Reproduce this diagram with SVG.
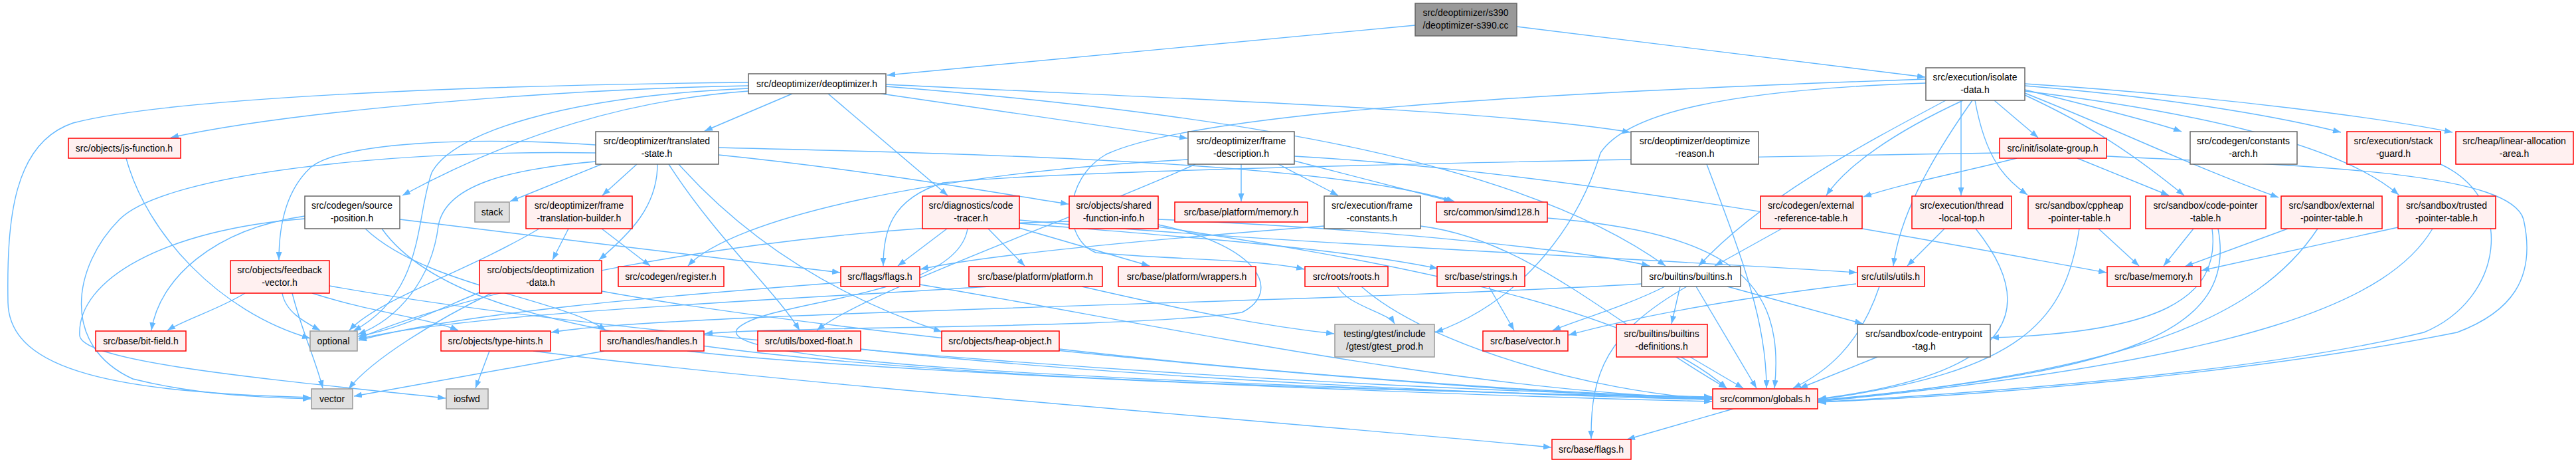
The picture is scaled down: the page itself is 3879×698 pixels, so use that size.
<svg xmlns="http://www.w3.org/2000/svg" width="3879" height="698" viewBox="0 0 3879 698">
<style>
text{font-family:"Liberation Sans",Arial,sans-serif;font-size:14px;text-anchor:middle;fill:#000}
.r{fill:#fff0f0;stroke:#ff0000;stroke-width:1.5}
.w{fill:#ffffff;stroke:#666666;stroke-width:1.5}
.g{fill:#e0e0e0;stroke:#999999;stroke-width:1.5}
.k{fill:#999999;stroke:#666666;stroke-width:1.5}
#edges path{fill:none;stroke:#63b8ff;stroke-width:1.4;marker-end:url(#a)}
</style>
<defs>
<marker id="a" markerWidth="12" markerHeight="9" refX="12" refY="4.5" orient="auto" markerUnits="userSpaceOnUse"><path d="M0,0 L12,4.5 L0,9 z" fill="#63b8ff" stroke="none"/></marker>
</defs>
<rect width="3879" height="698" fill="#ffffff"/>
<g id="edges">
<path d="M2131,38 L1336,113"/>
<path d="M2284,40 L2899,116"/>
<path d="M1127,129 C850,134 450,165 257,207"/>
<path d="M1127,124 C700,128 250,148 110,185 C20,215 10,330 12,455 C14,560 180,590 468,598"/>
<path d="M1193,141 L1061,197"/>
<path d="M1127,137 C950,150 780,200 606,294"/>
<path d="M1247,141 L1427,294"/>
<path d="M1327,141 L1788,208"/>
<path d="M1334,127 C1800,150 2250,165 2455,199"/>
<path d="M1334,130 C1900,175 2300,250 2508,400"/>
<path d="M1127,133 C850,145 680,200 650,260 C625,330 640,440 532,498"/>
<path d="M906,247 L768,303"/>
<path d="M959,247 L907,294"/>
<path d="M990,247 C990,310 950,350 902,391"/>
<path d="M897,218 C700,205 520,215 470,250 C430,285 420,340 420,391"/>
<path d="M1022,247 C1150,390 1300,460 1418,499"/>
<path d="M1007,247 C1080,360 1170,440 1204,497"/>
<path d="M1082,233 C1300,255 1500,290 1609,307"/>
<path d="M1082,222 C1500,232 2000,245 2190,303"/>
<path d="M897,243 C760,255 670,280 660,340 C650,420 600,480 539,503"/>
<path d="M897,230 C600,225 250,260 180,330 C110,400 90,520 200,570 C300,595 400,598 468,600"/>
<path d="M602,330 C800,355 1100,390 1265,410"/>
<path d="M459,325 C320,345 240,420 228,497"/>
<path d="M459,329 C250,345 115,420 120,505 C125,545 400,570 671,599"/>
<path d="M550,344 C640,430 850,450 912,497"/>
<path d="M575,344 C700,520 1200,570 2578,598"/>
<path d="M369,441 C330,465 280,480 252,497"/>
<path d="M425,441 C430,470 460,485 482,497"/>
<path d="M440,441 C455,500 475,540 486,584"/>
<path d="M470,441 C560,470 650,480 690,497"/>
<path d="M496,430 C1000,520 2000,585 2578,597"/>
<path d="M856,344 L832,391"/>
<path d="M906,344 L979,400"/>
<path d="M812,344 C700,410 570,450 526,497"/>
<path d="M722,440 C650,470 600,495 539,506"/>
<path d="M906,438 C1300,510 2200,590 2578,601"/>
<path d="M740,441 C660,480 560,540 525,585"/>
<path d="M1426,344 L1352,400"/>
<path d="M1488,344 L1543,400"/>
<path d="M1535,343 L1731,400"/>
<path d="M1535,336 C1700,350 2000,370 2165,404"/>
<path d="M1535,331 C1900,365 2500,390 2796,410"/>
<path d="M1457,344 C1440,450 1150,450 1110,495 C1080,540 1500,570 2578,600"/>
<path d="M1610,333 C1100,345 700,440 540,509"/>
<path d="M1744,330 C2100,345 2400,380 2484,400"/>
<path d="M1744,338 C1900,370 1930,440 1870,470 C1700,495 1200,490 1061,502"/>
<path d="M1744,341 C2000,380 2450,450 2600,584"/>
<path d="M1869,247 L1869,303"/>
<path d="M1925,247 L2015,294"/>
<path d="M1949,242 L2186,303"/>
<path d="M1789,240 C1400,260 1100,330 1036,400"/>
<path d="M1800,247 C1640,320 1300,440 1230,497"/>
<path d="M1949,235 C2400,260 3000,380 3172,410"/>
<path d="M1994,340 C1800,355 1500,380 1386,405"/>
<path d="M2139,340 C2300,360 2420,480 2600,584"/>
<path d="M2330,328 C2600,350 2690,420 2672,584"/>
<path d="M2570,247 C2620,380 2660,480 2660,584"/>
<path d="M3003,151 L3069,207"/>
<path d="M3049,135 C3150,160 3250,185 3285,198"/>
<path d="M3049,129 C3300,150 3450,180 3525,199"/>
<path d="M3049,126 C3350,145 3600,180 3693,199"/>
<path d="M2953,151 L2953,294"/>
<path d="M2974,151 C2990,240 3020,270 3053,293"/>
<path d="M3049,143 C3150,190 3210,230 3289,294"/>
<path d="M3049,140 C3200,200 3300,250 3431,297"/>
<path d="M3049,137 C3400,180 3550,240 3612,293"/>
<path d="M2956,151 C2850,200 2780,250 2750,294"/>
<path d="M2970,151 C2900,250 2860,330 2851,400"/>
<path d="M2930,151 C2800,220 2650,300 2558,400"/>
<path d="M2900,119 C2300,140 1800,170 1666,232 C1600,270 1600,360 1650,380 C1750,390 1900,390 1964,405"/>
<path d="M2900,125 C2600,135 2450,170 2410,230 C2380,330 2300,450 2161,500"/>
<path d="M3037,238 C2950,260 2870,275 2806,296"/>
<path d="M3128,238 L3266,294"/>
<path d="M3011,230 C2400,240 1600,255 1420,275 C1340,300 1330,350 1330,400"/>
<path d="M3172,235 C3500,250 3780,260 3800,330 C3820,420 3780,470 3700,500 C3400,560 3000,595 2737,605"/>
<path d="M2928,344 L2872,400"/>
<path d="M2975,344 C3060,450 3060,560 2738,600"/>
<path d="M3160,344 L3221,400"/>
<path d="M3131,344 C3110,480 3050,560 2738,601"/>
<path d="M3303,344 L3258,400"/>
<path d="M3331,344 C3345,450 3250,500 2998,508"/>
<path d="M3340,344 C3370,500 3200,560 2738,602"/>
<path d="M3445,344 L3290,401"/>
<path d="M3490,344 C3400,480 3200,560 2738,603"/>
<path d="M3611,342 L3315,407"/>
<path d="M3663,344 C3600,450 3400,540 2738,604"/>
<path d="M3675,247 C3790,300 3770,450 3650,500 C3400,560 3000,590 2738,605"/>
<path d="M2683,344 L2582,400"/>
<path d="M2472,427 C2000,455 1000,470 830,500"/>
<path d="M2507,431 C2450,460 2380,480 2338,497"/>
<path d="M2530,431 L2517,487"/>
<path d="M2554,431 L2645,584"/>
<path d="M2540,431 C2420,500 2395,560 2396,660"/>
<path d="M2601,431 L2805,487"/>
<path d="M2795,427 C2600,450 2450,480 2362,504"/>
<path d="M2830,431 C2800,520 2750,560 2700,584"/>
<path d="M2050,431 C2150,520 2400,590 2578,600"/>
<path d="M2014,431 C2030,460 2090,470 2100,487"/>
<path d="M2242,431 L2280,497"/>
<path d="M1629,431 C1800,470 1900,490 2009,502"/>
<path d="M1490,431 C1200,450 700,470 540,510"/>
<path d="M1385,428 C1700,480 2200,590 2578,599"/>
<path d="M1266,425 C1000,445 700,470 540,512"/>
<path d="M910,528 L533,596"/>
<path d="M1035,528 C1300,560 2200,595 2578,604"/>
<path d="M737,528 L716,584"/>
<path d="M803,528 C1200,580 2000,640 2336,673"/>
<path d="M1296,525 C1700,570 2300,595 2578,601"/>
<path d="M1595,525 C1900,560 2300,590 2578,599"/>
<path d="M190,238 C220,350 330,470 467,509"/>
<path d="M2545,537 L2625,584"/>
<path d="M2827,537 L2710,584"/>
<path d="M2610,615 L2450,661"/>
</g>
<g id="n0"><rect class="k" x="2131" y="5" width="153" height="49"/><text x="2207" y="24">src/deoptimizer/s390</text><text x="2207" y="43">/deoptimizer-s390.cc</text></g>
<g id="n1"><rect class="w" x="1127" y="111" width="207" height="30"/><text x="1230" y="131">src/deoptimizer/deoptimizer.h</text></g>
<g id="n2"><rect class="w" x="2900" y="102" width="149" height="49"/><text x="2974" y="121">src/execution/isolate</text><text x="2974" y="140">-data.h</text></g>
<g id="n3"><rect class="r" x="103" y="208" width="169" height="30"/><text x="187" y="228">src/objects/js-function.h</text></g>
<g id="n4"><rect class="w" x="897" y="198" width="185" height="49"/><text x="989" y="217">src/deoptimizer/translated</text><text x="989" y="236">-state.h</text></g>
<g id="n5"><rect class="w" x="1789" y="198" width="160" height="49"/><text x="1869" y="217">src/deoptimizer/frame</text><text x="1869" y="236">-description.h</text></g>
<g id="n6"><rect class="w" x="2456" y="198" width="192" height="49"/><text x="2552" y="217">src/deoptimizer/deoptimize</text><text x="2552" y="236">-reason.h</text></g>
<g id="n7"><rect class="r" x="3011" y="208" width="161" height="30"/><text x="3091" y="228">src/init/isolate-group.h</text></g>
<g id="n8"><rect class="w" x="3298" y="198" width="161" height="49"/><text x="3378" y="217">src/codegen/constants</text><text x="3378" y="236">-arch.h</text></g>
<g id="n9"><rect class="r" x="3534" y="198" width="141" height="49"/><text x="3604" y="217">src/execution/stack</text><text x="3604" y="236">-guard.h</text></g>
<g id="n10"><rect class="r" x="3698" y="198" width="177" height="49"/><text x="3786" y="217">src/heap/linear-allocation</text><text x="3786" y="236">-area.h</text></g>
<g id="n11"><rect class="w" x="459" y="295" width="143" height="49"/><text x="530" y="314">src/codegen/source</text><text x="530" y="333">-position.h</text></g>
<g id="n12"><rect class="g" x="715" y="304" width="52" height="30"/><text x="741" y="324">stack</text></g>
<g id="n13"><rect class="r" x="792" y="295" width="160" height="49"/><text x="872" y="314">src/deoptimizer/frame</text><text x="872" y="333">-translation-builder.h</text></g>
<g id="n14"><rect class="r" x="1389" y="295" width="146" height="49"/><text x="1462" y="314">src/diagnostics/code</text><text x="1462" y="333">-tracer.h</text></g>
<g id="n15"><rect class="r" x="1610" y="295" width="134" height="49"/><text x="1677" y="314">src/objects/shared</text><text x="1677" y="333">-function-info.h</text></g>
<g id="n16"><rect class="r" x="1769" y="304" width="200" height="30"/><text x="1869" y="324">src/base/platform/memory.h</text></g>
<g id="n17"><rect class="w" x="1994" y="295" width="145" height="49"/><text x="2066" y="314">src/execution/frame</text><text x="2066" y="333">-constants.h</text></g>
<g id="n18"><rect class="r" x="2163" y="304" width="167" height="30"/><text x="2246" y="324">src/common/simd128.h</text></g>
<g id="n19"><rect class="r" x="2651" y="295" width="153" height="49"/><text x="2727" y="314">src/codegen/external</text><text x="2727" y="333">-reference-table.h</text></g>
<g id="n20"><rect class="r" x="2879" y="295" width="150" height="49"/><text x="2954" y="314">src/execution/thread</text><text x="2954" y="333">-local-top.h</text></g>
<g id="n21"><rect class="r" x="3054" y="295" width="154" height="49"/><text x="3131" y="314">src/sandbox/cppheap</text><text x="3131" y="333">-pointer-table.h</text></g>
<g id="n22"><rect class="r" x="3231" y="295" width="181" height="49"/><text x="3321" y="314">src/sandbox/code-pointer</text><text x="3321" y="333">-table.h</text></g>
<g id="n23"><rect class="r" x="3435" y="295" width="152" height="49"/><text x="3511" y="314">src/sandbox/external</text><text x="3511" y="333">-pointer-table.h</text></g>
<g id="n24"><rect class="r" x="3611" y="295" width="147" height="49"/><text x="3684" y="314">src/sandbox/trusted</text><text x="3684" y="333">-pointer-table.h</text></g>
<g id="n25"><rect class="r" x="347" y="392" width="149" height="49"/><text x="421" y="411">src/objects/feedback</text><text x="421" y="430">-vector.h</text></g>
<g id="n26"><rect class="r" x="722" y="392" width="184" height="49"/><text x="814" y="411">src/objects/deoptimization</text><text x="814" y="430">-data.h</text></g>
<g id="n27"><rect class="r" x="931" y="401" width="159" height="30"/><text x="1010" y="421">src/codegen/register.h</text></g>
<g id="n28"><rect class="r" x="1266" y="401" width="119" height="30"/><text x="1325" y="421">src/flags/flags.h</text></g>
<g id="n29"><rect class="r" x="1459" y="401" width="201" height="30"/><text x="1559" y="421">src/base/platform/platform.h</text></g>
<g id="n30"><rect class="r" x="1684" y="401" width="207" height="30"/><text x="1787" y="421">src/base/platform/wrappers.h</text></g>
<g id="n31"><rect class="r" x="1965" y="401" width="125" height="30"/><text x="2027" y="421">src/roots/roots.h</text></g>
<g id="n32"><rect class="r" x="2164" y="401" width="132" height="30"/><text x="2230" y="421">src/base/strings.h</text></g>
<g id="n33"><rect class="w" x="2472" y="401" width="149" height="30"/><text x="2546" y="421">src/builtins/builtins.h</text></g>
<g id="n34"><rect class="r" x="2797" y="401" width="101" height="30"/><text x="2847" y="421">src/utils/utils.h</text></g>
<g id="n35"><rect class="r" x="3173" y="401" width="141" height="30"/><text x="3243" y="421">src/base/memory.h</text></g>
<g id="n36"><rect class="r" x="144" y="498" width="136" height="30"/><text x="212" y="518">src/base/bit-field.h</text></g>
<g id="n37"><rect class="g" x="467" y="498" width="71" height="30"/><text x="502" y="518">optional</text></g>
<g id="n38"><rect class="r" x="664" y="498" width="165" height="30"/><text x="746" y="518">src/objects/type-hints.h</text></g>
<g id="n39"><rect class="r" x="904" y="498" width="156" height="30"/><text x="982" y="518">src/handles/handles.h</text></g>
<g id="n40"><rect class="r" x="1141" y="498" width="155" height="30"/><text x="1218" y="518">src/utils/boxed-float.h</text></g>
<g id="n41"><rect class="r" x="1418" y="498" width="177" height="30"/><text x="1506" y="518">src/objects/heap-object.h</text></g>
<g id="n42"><rect class="g" x="2010" y="488" width="150" height="49"/><text x="2085" y="507">testing/gtest/include</text><text x="2085" y="526">/gtest/gtest_prod.h</text></g>
<g id="n43"><rect class="r" x="2233" y="498" width="128" height="30"/><text x="2297" y="518">src/base/vector.h</text></g>
<g id="n44"><rect class="r" x="2434" y="488" width="137" height="49"/><text x="2502" y="507">src/builtins/builtins</text><text x="2502" y="526">-definitions.h</text></g>
<g id="n45"><rect class="w" x="2797" y="488" width="200" height="49"/><text x="2897" y="507">src/sandbox/code-entrypoint</text><text x="2897" y="526">-tag.h</text></g>
<g id="n46"><rect class="g" x="469" y="585" width="62" height="30"/><text x="500" y="605">vector</text></g>
<g id="n47"><rect class="g" x="672" y="585" width="63" height="30"/><text x="703" y="605">iosfwd</text></g>
<g id="n48"><rect class="r" x="2579" y="585" width="158" height="30"/><text x="2658" y="605">src/common/globals.h</text></g>
<g id="n49"><rect class="r" x="2337" y="661" width="119" height="30"/><text x="2396" y="681">src/base/flags.h</text></g>
</svg>
